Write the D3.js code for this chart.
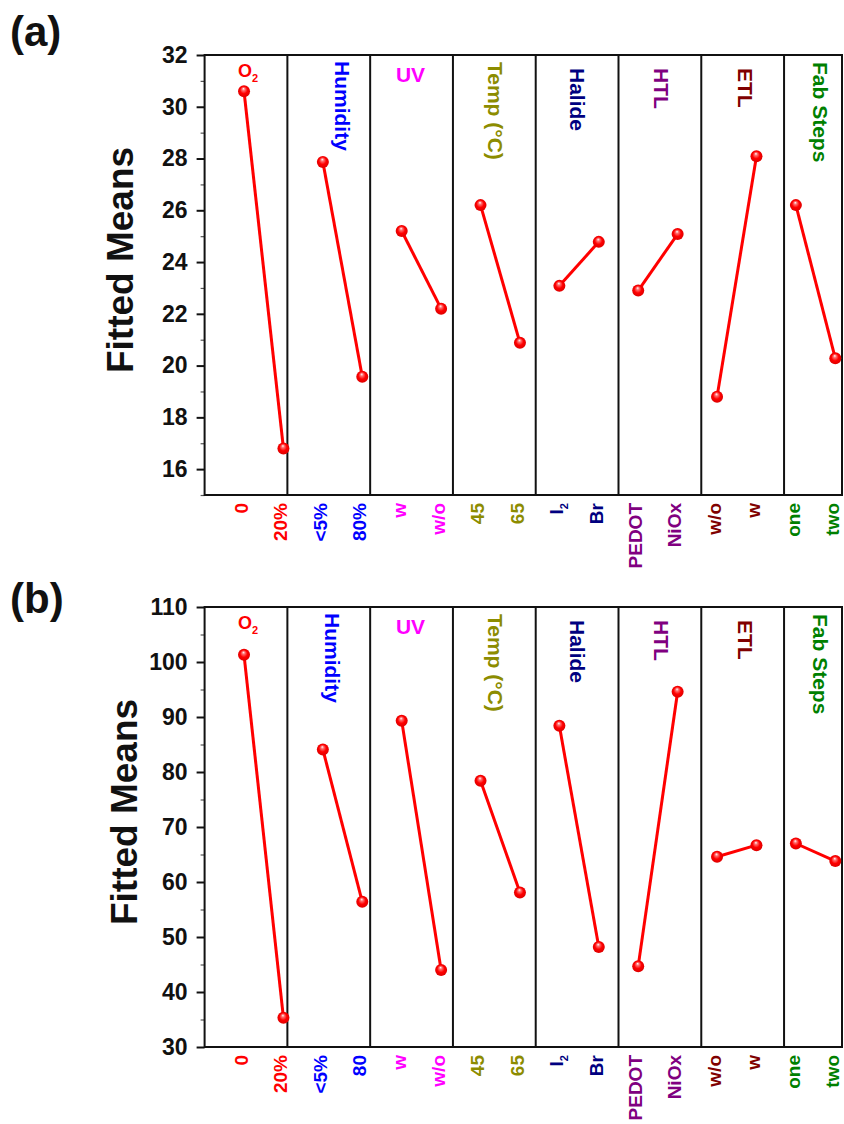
<!DOCTYPE html>
<html>
<head>
<meta charset="utf-8">
<script src="https://cdn.jsdelivr.net/npm/d3@7"></script>
<style>
html,body{margin:0;padding:0;background:#fff;}
svg{display:block;font-family:"Liberation Sans",Arial,sans-serif;font-weight:bold;}
</style>
</head>
<body>
<svg id="chart" width="844" height="1124"></svg>
<script>
// ---------- data ----------
const factors = ["O2", "Humidity", "UV", "Temp (°C)", "Halide", "HTL", "ETL", "Fab Steps"];
const factorColors = ["#ff0000", "#0000ff", "#ff00ff", "#8c8c00", "#000080", "#800080", "#800000", "#008000"];
const levelsA = ["0", "20%", "<5%", "80%", "w", "w/o", "45", "65", "I2", "Br", "PEDOT", "NiOx", "w/o", "w", "one", "two"];
const levelsB = ["0", "20%", "<5%", "80", "w", "w/o", "45", "65", "I2", "Br", "PEDOT", "NiOx", "w/o", "w", "one", "two"];
const meansA = [30.6, 16.8, 27.87, 19.57, 25.2, 22.2, 26.2, 20.88, 23.08, 24.78, 22.9, 25.08, 18.8, 28.09, 26.2, 20.28];
const meansB = [101.3, 35.3, 84.1, 56.4, 89.3, 44.0, 78.4, 58.1, 88.4, 48.2, 44.7, 94.6, 64.6, 66.7, 67.0, 63.8];
const yDomainA = [15, 32];
const yDomainB = [30, 110];
const ticksA = [16, 18, 20, 22, 24, 26, 28, 30, 32];
const ticksB = [30, 40, 50, 60, 70, 80, 90, 100, 110];
const minorA = [15, 17, 19, 21, 23, 25, 27, 29, 31];
const minorB = [35, 45, 55, 65, 75, 85, 95, 105];
const yTitle = "Fitted Means";

// ---------- layout ----------
const svg = d3.select("#chart");
const panelWidth = 2.1;                     // x-units per factor panel
const x = d3.scaleLinear().domain([0, 16.17]).range([204.6, 842]);
const panels = [
  {tag: "(a)", tagY: 46, top: 55, bottom: 495, domain: yDomainA, ticks: ticksA, minor: minorA,
   values: meansA, levels: levelsA, titleX: 133, humDx: 14},
  {tag: "(b)", tagY: 613, top: 607, bottom: 1047, domain: yDomainB, ticks: ticksB, minor: minorB,
   values: meansB, levels: levelsB, titleX: 137, humDx: 4}
];
// header fine layout (vertical start offset and x nudge)
const headerStart = [0, 6, 0, 7, 13, 13, 13, 7];
const headerNudge = [2, 0, -1, 1, 0, 1, 3, -5];

const defs = svg.append("defs");
const grad = defs.append("radialGradient").attr("id", "ball")
  .attr("cx", "0.5").attr("cy", "0.5").attr("r", "0.55").attr("fx", "0.45").attr("fy", "0.28");
grad.append("stop").attr("offset", "0%").attr("stop-color", "#ffffff");
grad.append("stop").attr("offset", "22%").attr("stop-color", "#ff7070");
grad.append("stop").attr("offset", "55%").attr("stop-color", "#ff0000");
grad.append("stop").attr("offset", "100%").attr("stop-color", "#d80000");

panels.forEach(p => {
  const g = svg.append("g");
  const y = d3.scaleLinear().domain(p.domain).range([p.bottom, p.top]);
  const x0 = x(0), x1 = x.domain()[1];

  // panel tag
  g.append("text").attr("x", 10).attr("y", p.tagY).attr("font-size", 42).attr("fill", "#111").text(p.tag);

  // y title
  g.append("text")
    .attr("transform", `translate(${p.titleX},${(p.top + p.bottom) / 2 - 15}) rotate(-90)`)
    .attr("text-anchor", "middle").attr("font-size", 37).attr("fill", "#111").text(yTitle);

  // minor ticks
  const minorAxis = d3.axisLeft(y).tickValues(p.minor).tickSize(4).tickFormat("");
  const gm = g.append("g").attr("transform", `translate(${x0},0)`).call(minorAxis);
  gm.select(".domain").remove();
  gm.selectAll("line").attr("stroke", "#555").attr("stroke-width", 1.2);

  // major axis
  const axis = d3.axisLeft(y).tickValues(p.ticks).tickSize(8).tickPadding(9).tickFormat(d3.format("d"));
  const ga = g.append("g").attr("transform", `translate(${x0},0)`).call(axis);
  ga.select(".domain").remove();
  ga.selectAll("line").attr("stroke", "#111").attr("stroke-width", 2);
  ga.selectAll("text").attr("font-size", 23).attr("font-family", "Liberation Sans, Arial, sans-serif")
    .attr("font-weight", "bold").attr("fill", "#111");

  // dividers
  const divs = d3.range(1, 8).map(k => k * panelWidth);
  g.selectAll("line.div").data(divs).join("line").attr("class", "div")
    .attr("x1", d => x(d)).attr("x2", d => x(d)).attr("y1", p.top).attr("y2", p.bottom)
    .attr("stroke", "#111").attr("stroke-width", 2);

  // frame
  g.append("rect").attr("x", x0).attr("y", p.top).attr("width", x(x1) - x0).attr("height", p.bottom - p.top)
    .attr("fill", "none").attr("stroke", "#111").attr("stroke-width", 2);

  // headers
  factors.forEach((f, j) => {
    const left = x(j * panelWidth), right = x(Math.min((j + 1) * panelWidth, 16.8));
    let cx = (left + right) / 2 + headerNudge[j];
    if (j === 1) cx = (left + right) / 2 + p.humDx;
    const col = factorColors[j];
    if (f === "O2") {
      const t = g.append("text").attr("x", cx).attr("y", p.top + 22).attr("text-anchor", "middle")
        .attr("fill", col).attr("font-size", 18);
      t.append("tspan").text("O");
      t.append("tspan").attr("font-size", 11).attr("dy", 5).text("2");
    } else if (f === "UV") {
      g.append("text").attr("x", cx).attr("y", p.top + 27).attr("text-anchor", "middle")
        .attr("fill", col).attr("font-size", 21).text(f);
    } else {
      g.append("text").attr("transform", `translate(${cx},${p.top + headerStart[j]}) rotate(90)`)
        .attr("dy", "0.35em").attr("text-anchor", "start")
        .attr("fill", col).attr("font-size", 21).text(f);
    }
  });

  // bottom level labels
  p.levels.forEach((lv, i) => {
    const col = factorColors[Math.floor(i / 2)];
    const t = g.append("text").attr("transform", `translate(${x(i + 1)},${p.bottom + 8}) rotate(-90)`)
      .attr("dy", "0.2em").attr("text-anchor", "end").attr("fill", col).attr("font-size", 19);
    if (lv === "I2") {
      t.append("tspan").text("I");
      t.append("tspan").attr("font-size", 11).attr("dy", "0.45em").text("2");
    } else {
      t.text(lv);
    }
  });

  // lines & markers
  const line = d3.line().x(d => x(d.i + 1)).y(d => y(d.v));
  factors.forEach((f, j) => {
    const pts = [0, 1].map(k => ({i: 2 * j + k, v: p.values[2 * j + k]}));
    g.append("path").attr("d", line(pts)).attr("fill", "none").attr("stroke", "#ff0000").attr("stroke-width", 3);
  });
  g.selectAll("circle.pt").data(p.values.map((v, i) => ({i, v}))).join("circle").attr("class", "pt")
    .attr("cx", d => x(d.i + 1)).attr("cy", d => y(d.v)).attr("r", 6)
    .attr("fill", "url(#ball)");
});
</script>
</body>
</html>
